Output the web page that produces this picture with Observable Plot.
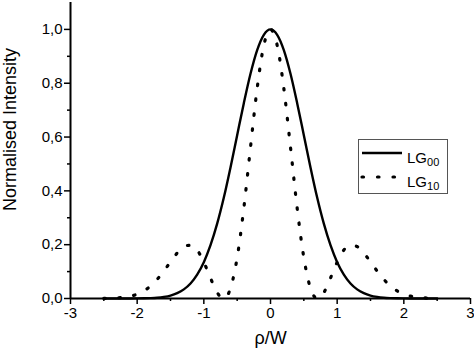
<!DOCTYPE html>
<html>
<head>
<meta charset="utf-8">
<script src="https://cdn.jsdelivr.net/npm/d3@7"></script>
<script src="https://cdn.jsdelivr.net/npm/@observablehq/plot@0.6"></script>
<style>
  body { margin: 0; background: #fff; }
  #wrap { position: relative; width: 474px; height: 354px; font-family: "Liberation Sans", Arial, sans-serif; }
  #legend { position: absolute; left: 0; top: 0; pointer-events: none; }
</style>
</head>
<body>
<div id="wrap"></div>
<script>
const rho = [-2.5,-2.4,-2.3,-2.2,-2.1,-2.0,-1.9,-1.8,-1.7,-1.6,-1.5,-1.4,-1.3,-1.2,-1.1,-1.0,-0.9,-0.8,-0.7,-0.6,-0.5,-0.4,-0.3,-0.2,-0.1,0,
  0.1,0.2,0.3,0.4,0.5,0.6,0.7,0.8,0.9,1.0,1.1,1.2,1.3,1.4,1.5,1.6,1.7,1.8,1.9,2.0,2.1,2.2,2.3,2.4,2.5];
const lg00 = [0.0000,0.0000,0.0000,0.0001,0.0001,0.0003,0.0007,0.0015,0.003,0.006,0.011,0.020,0.034,0.056,0.089,0.135,0.198,0.278,0.375,0.487,0.607,0.726,0.835,0.923,0.980,1.000,
  0.980,0.923,0.835,0.726,0.607,0.487,0.375,0.278,0.198,0.135,0.089,0.056,0.034,0.020,0.011,0.006,0.003,0.0015,0.0007,0.0003,0.0001,0.0001,0.0000,0.0000,0.0000];
const lg10 = [0.0005,0.0011,0.0023,0.0047,0.009,0.016,0.028,0.046,0.071,0.102,0.136,0.169,0.193,0.198,0.180,0.135,0.076,0.022,0.000,0.038,0.152,0.336,0.562,0.781,0.941,1.000,
  0.941,0.781,0.562,0.336,0.152,0.038,0.000,0.022,0.076,0.135,0.180,0.198,0.193,0.169,0.136,0.102,0.071,0.046,0.028,0.016,0.009,0.0047,0.0023,0.0011,0.0005];
const xTicks = [-3,-2,-1,0,1,2,3];
const xMinor = [-2.5,-1.5,-0.5,0.5,1.5,2.5];
const yTicks = [0,0.2,0.4,0.6,0.8,1.0];
const yMinor = [0.1,0.3,0.5,0.7,0.9];
const seriesNames = ["LG00", "LG10"];
const xLabel = "ρ/W";
const yLabel = "Normalised Intensity";

const d00 = rho.map((r, i) => ({rho: r, v: lg00[i]}));
const d10 = rho.map((r, i) => ({rho: r, v: lg10[i]}));

const chart = Plot.plot({
  width: 474,
  height: 354,
  marginLeft: 70,
  marginRight: 4,
  marginTop: 2,
  marginBottom: 56,
  style: {fontFamily: '"Liberation Sans", Arial, sans-serif', color: "#000", background: "#fff"},
  x: {domain: [-3, 3]},
  y: {domain: [0, 1.1]},
  axis: null,
  marks: [
    Plot.line(d00, {x: "rho", y: "v", stroke: "#000", strokeWidth: 2.4, curve: "monotone-x"}),
    Plot.line(d10, {x: "rho", y: "v", stroke: "#000", strokeWidth: 3.2, curve: "monotone-x",
      strokeDasharray: "1.5,13.5", strokeLinecap: "round"}),
    Plot.axisX({ticks: xTicks, tickSize: 6, tickPadding: 3, fontSize: 15, strokeWidth: 1.5,
      tickFormat: d => String(d), label: null}),
    Plot.axisX({ticks: xMinor, tickSize: 3, strokeWidth: 1.5, tickFormat: () => "", label: null}),
    Plot.axisY({ticks: yTicks, tickSize: 6, tickPadding: 2, fontSize: 15, strokeWidth: 1.5,
      tickFormat: d => d.toFixed(1).replace(".", ","), label: null}),
    Plot.axisY({ticks: yMinor, tickSize: 3, strokeWidth: 1.5, tickFormat: () => "", label: null}),
    Plot.ruleY([0], {stroke: "#000", strokeWidth: 2}),
    Plot.ruleX([-3], {stroke: "#000", strokeWidth: 2}),
    Plot.text([xLabel], {frameAnchor: "bottom", dy: 45, fontSize: 18, text: d => d}),
    Plot.text([yLabel], {frameAnchor: "left", textAnchor: "middle", dx: -60, dy: -21, rotate: -90, fontSize: 18, text: d => d})
  ]
});

const wrap = document.getElementById("wrap");
wrap.appendChild(chart);

// Legend overlay
const ns = "http://www.w3.org/2000/svg";
const lg = document.createElementNS(ns, "svg");
lg.setAttribute("id", "legend");
lg.setAttribute("width", 474);
lg.setAttribute("height", 354);
lg.innerHTML = `
  <rect x="358.5" y="139.5" width="89" height="54" fill="#fff" stroke="#555" stroke-width="1"/>
  <line x1="362" y1="153" x2="402" y2="153" stroke="#000" stroke-width="2.4"/>
  <line x1="362" y1="177" x2="402" y2="177" stroke="#000" stroke-width="3.2" stroke-dasharray="1.5,14" stroke-linecap="round"/>
  <text x="407" y="163" font-size="15" font-family="Liberation Sans, Arial, sans-serif">${seriesNames[0].slice(0,2)}<tspan font-size="11" dy="3">${seriesNames[0].slice(2)}</tspan></text>
  <text x="407" y="187" font-size="15" font-family="Liberation Sans, Arial, sans-serif">${seriesNames[1].slice(0,2)}<tspan font-size="11" dy="3">${seriesNames[1].slice(2)}</tspan></text>
`;
wrap.appendChild(lg);
</script>
</body>
</html>
